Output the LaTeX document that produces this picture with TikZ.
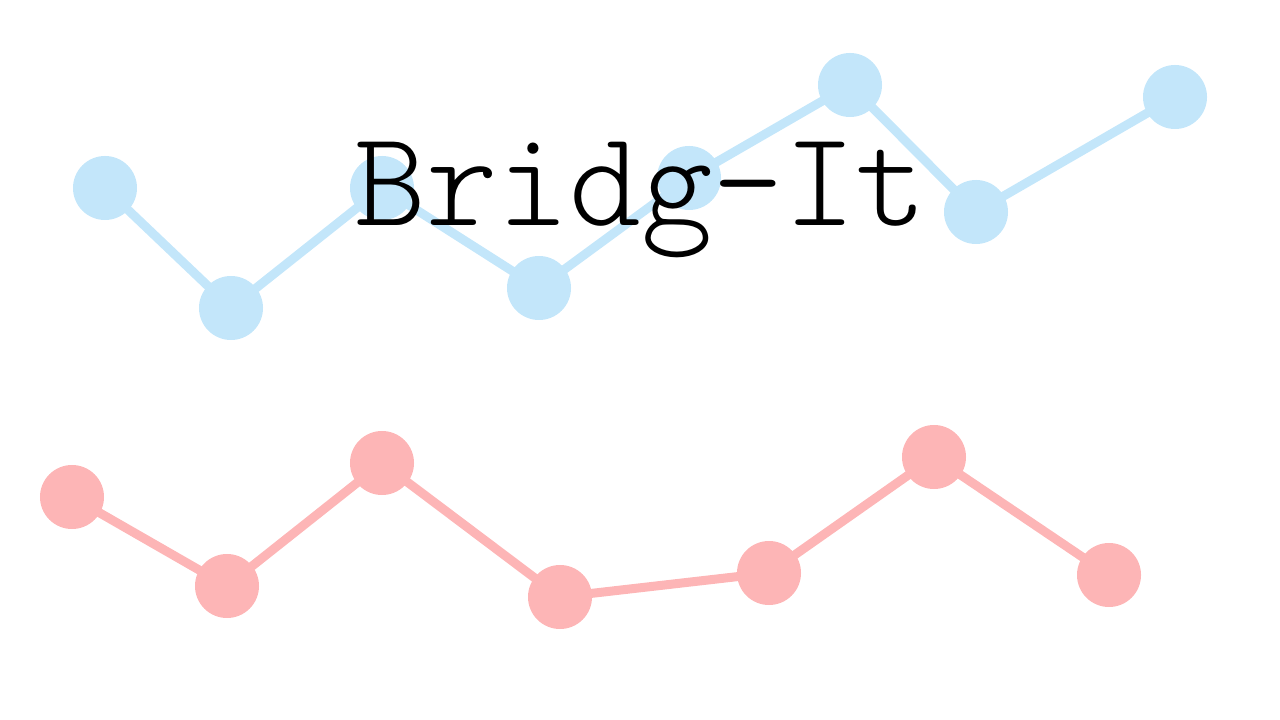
\documentclass[tikz,border=0pt]{standalone}
\usepackage{fontspec}
\newfontfamily\titlefont{Latin Modern Mono Light}
\definecolor{bridgeblue}{HTML}{C3E6FA}
\definecolor{bridgered}{HTML}{FDB5B6}
\tikzset{
	spot/.style={circle, inner sep=0pt, minimum size=1.6cm},
	bluespot/.style={spot, fill=bridgeblue},
	redspot/.style={spot, fill=bridgered},
	link/.style={line width=6.4pt}
}
\begin{document}
\begin{tikzpicture}[x=0.025cm, y=-0.025cm]
				\useasboundingbox (0,0) rectangle (1280,720);
				%blaue reihe
				\foreach \x/\y [count=\i] in {105/188, 231/308, 382/188, 539/288, 689/178, 850/85, 976/212, 1175/97} {
					\node[bluespot] (b\i) at (\x, \y) {};
				}
				\foreach \i [evaluate=\i as \j using int(\i+1)] in {1,...,7} {
					\draw[link, bridgeblue] (b\i.center) -- (b\j.center);
				}
				%rote reihe
				\foreach \x/\y [count=\i] in {72/497, 227/586, 382/463, 560/597, 769/573, 934/457, 1109/575} {
					\node[redspot] (r\i) at (\x, \y) {};
				}
				\foreach \i [evaluate=\i as \j using int(\i+1)] in {1,...,6} {
					\draw[link, bridgered] (r\i.center) -- (r\j.center);
				}
				%titel
				\node[anchor=base, inner sep=0pt] (title) at (641, 226) {\titlefont\fontsize{97}{97}\selectfont Bridg-It};
			\end{tikzpicture}
\end{document}
